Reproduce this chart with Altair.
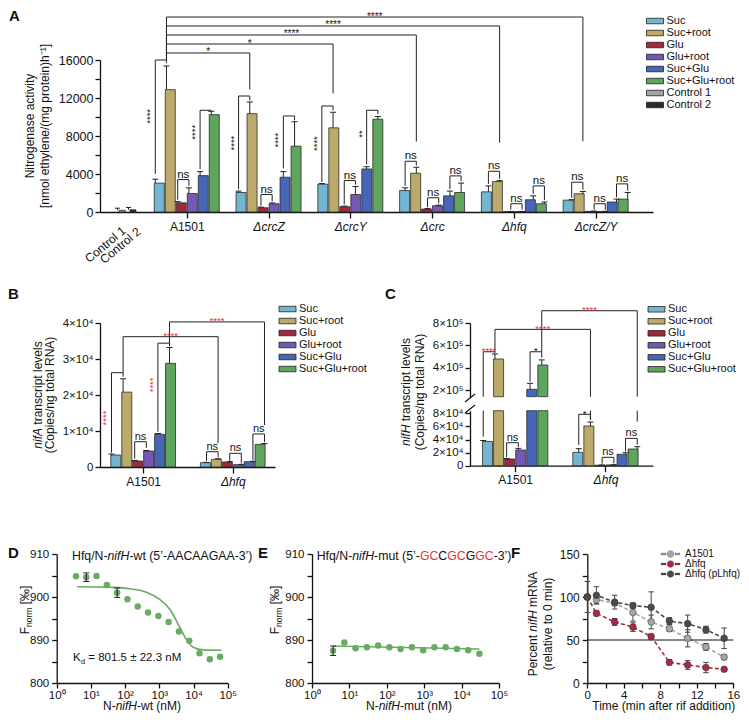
import altair as alt
import pandas as pd

FONT = "Liberation Sans"
INK = "#111111"
RED = "#e8333d"

# ======================= values =======================
conditions = ["Suc", "Suc+root", "Glu", "Glu+root", "Suc+Glu", "Suc+Glu+root"]
control_names = ["Control 1", "Control 2"]
cond_colors = ["#72b6d2", "#bcaa6b", "#a3283d", "#7558b1", "#4666b6", "#5ea55d"]
control_colors = ["#a3a3a3", "#2a2a2a"]

# ---- A: nitrogenase activity
a_strains = ["A1501", "ΔcrcZ", "ΔcrcY", "Δcrc", "Δhfq", "ΔcrcZ/Y"]
a_A1501 = [3040, 12880, 970, 1950, 3830, 10250]
a_crcZ = [2050, 10350, 450, 870, 3660, 6930]
a_crcY = [2930, 8860, 550, 1840, 4530, 9770]
a_crc = [2260, 4080, 310, 660, 1700, 2050]
a_hfq = [2120, 3200, 40, 40, 1290, 870]
a_crcZY = [1250, 1920, 70, 50, 1050, 1360]
a_A1501_err = [410, 2490, 120, 590, 420, 350]
a_crcZ_err = [150, 1230, 60, 80, 590, 2570]
a_crcY_err = [60, 1640, 70, 840, 240, 280]
a_crc_err = [280, 630, 50, 60, 500, 990]
a_hfq_err = [630, 100, 20, 20, 410, 180]
a_crcZY_err = [40, 240, 20, 20, 310, 690]
a_controls = [180, 230]
a_controls_err = [220, 250]
# (group, bar1, bar2, bracket y, left end y, right end y, label, y of vertical label)
a_pairs = [
    (1, 0, 1, 16000, 4010, 15700, "****", 10070),
    (1, 2, 3, 3410, 1300, 2750, "ns", None),
    (1, 4, 5, 10710, 4500, 10650, "****", 8390),
    (2, 0, 1, 12210, 2400, 11750, "****", 7250),
    (2, 2, 3, 1840, 650, 1100, "ns", None),
    (2, 4, 5, 10110, 4600, 9650, "****", 7560),
    (3, 0, 1, 11160, 3150, 10700, "****", 7200),
    (3, 2, 3, 3310, 800, 2900, "ns", None),
    (3, 4, 5, 10710, 5000, 10300, "**", 8200),
    (4, 0, 1, 5340, 2750, 4900, "ns", None),
    (4, 2, 3, 1500, 500, 900, "ns", None),
    (4, 4, 5, 3800, 2400, 3250, "ns", None),
    (5, 0, 1, 4290, 2950, 3500, "ns", None),
    (5, 2, 3, 870, 250, 250, "ns", None),
    (5, 4, 5, 2750, 1900, 1250, "ns", None),
    (6, 0, 1, 3140, 1500, 2350, "ns", None),
    (6, 2, 3, 870, 250, 250, "ns", None),
    (6, 4, 5, 2960, 1550, 2250, "ns", None),
]
# (from group, bar, y, to group, bar, y, line y, label)
a_cross = [
    (1, 1, 16000, 2, 1, 12900, 16737, "*"),
    (1, 1, 16000, 3, 1, 12490, 17684, "*"),
    (1, 1, 16000, 4, 1, 7410, 18632, "****"),
    (1, 1, 16000, 5, 1, 7300, 19579, "****"),
    (1, 1, 16000, 6, 1, 7440, 20526, "****"),
]

# ---- B: nifA transcripts (copies/ng total RNA)
bc_strains = ["A1501", "Δhfq"]
b_A1501 = [3330, 20800, 1670, 4440, 9080, 28800]
b_A1501_err = [270, 3700, 150, 150, 220, 4400]
b_hfq = [1200, 2130, 1390, 650, 1480, 6300]
b_hfq_err = [100, 170, 100, 80, 100, 200]
b_pairs = [
    (1, 0, 1, 26200, 3970, 25100, "****", 13600),
    (1, 2, 3, 7030, 2300, 5300, "ns", None),
    (1, 4, 5, 34400, 9800, 33500, "****", 22800),
    (2, 0, 1, 4250, 1700, 2700, "ns", None),
    (2, 2, 3, 3800, 1700, 1000, "ns", None),
    (2, 4, 5, 9170, 1900, 6900, "ns", None),
]
b_cross = [
    (1, 1, 26200, 2, 1, 6580, 36200, "****"),
    (1, 5, 34400, 2, 5, 11670, 40300, "****"),
]

# ---- C: nifH transcripts (copies/ng total RNA), broken axis
c_A1501 = [37000, 478000, 10200, 24000, 206000, 424000]
c_A1501_err = [1500, 45000, 800, 2500, 54000, 46000]
c_hfq = [20400, 60600, 800, 1200, 17400, 25500]
c_hfq_err = [5600, 6100, 300, 300, 2400, 3500]
c_pairs = [
    (1, 0, 1, 543000, 44300, 530000, "****", None),
    (1, 2, 3, 35100, 13000, 28500, "ns", None),
    (1, 4, 5, 543000, 275000, 490000, "*", None),
    (2, 0, 1, 78500, 31600, 69800, "*", None),
    (2, 2, 3, 12800, 3000, 3500, "ns", None),
    (2, 4, 5, 41800, 22000, 32000, "ns", None),
]
c_cross = [
    (1, 1, 543000, 2, 1, 69800, 744000, "****"),
    (1, 5, 543000, 2, 5, 67200, 911000, "****"),
]

# ---- D: MST, Hfq / N-nifH-wt
d_conc = [3.66, 7.32, 14.6, 29.3, 58.6, 117, 234, 469, 938, 1875, 3750, 7500, 15000, 30000, 60000]
d_fnorm = [904.8, 904.6, 904.9, 902.8, 901.0, 899.5, 897.8, 896.4, 895.6, 894.2, 892.0, 889.8, 886.9, 885.5, 886.1]
d_err_index = [1, 4]
d_err = [1.0, 1.1]
d_fit_conc = [4, 30, 110, 420, 1000, 2000, 3200, 4500, 6200, 9800, 19000, 66000]
d_fit_val = [902.4, 902.3, 902.0, 901.1, 899.5, 897.2, 894.4, 892.1, 890.1, 888.3, 887.7, 887.6]

# ---- E: MST, Hfq / N-nifH-mut
e_conc = d_conc[:14]
e_fnorm = [887.5, 889.4, 888.1, 888.3, 888.7, 888.3, 887.9, 888.3, 887.6, 888.3, 888.3, 887.9, 887.6, 886.8]
e_err_index = [0]
e_err = [1.1]
e_fit_conc = [3.66, 30000]
e_fit_val = [888.6, 887.9]

# ---- F: nifH mRNA stability
f_series = ["A1501", "Δhfq", "Δhfq (pLhfq)"]
f_colors = ["#a6a6a6", "#a52a44", "#4a4a4a"]
f_time = [0, 1, 3, 5, 7, 9, 11, 13, 15]
f_A1501 = [100, 97, 93, 82, 71, 63, 52, 42, 30]
f_A1501_err = [18, 5, 3, 10, 8, 3, 10, 4, 3]
f_hfq = [100, 81, 71, 65, 54, 24, 21, 18, 16]
f_hfq_err = [0, 3, 4, 5, 3, 3, 5, 6, 2]
f_pL = [100, 102, 94, 90, 88, 72, 69, 62, 52]
f_pL_err = [0, 10, 8, 3, 18, 4, 10, 4, 12]

# ============================== layout helpers ===============================
W, H = 733, 706
layers = []


def lin(domain, rng):
    return alt.Scale(domain=domain, range=rng, nice=False, zero=False)


AXC = dict(grid=False, title=None, labelFlush=False, labelOverlap=False,
           domainWidth=1.3, tickWidth=1.3, domainColor=INK, tickColor=INK,
           labelColor=INK, labelFont=FONT)
BAR_SYM = "M-1.7,-0.55H1.7V0.55H-1.7Z"
F_SYM = ("M-2.1,-0.2H-1V0.2H-2.1Z M1,-0.2H2.1V0.2H1Z "
         "M0.75,0A0.75,0.75,0,1,1,-0.75,0A0.75,0.75,0,1,1,0.75,0Z")


def bar_legend(x, y):
    return alt.Legend(orient="none", legendX=x, legendY=y, direction="vertical", title=None,
                      symbolType=BAR_SYM, symbolSize=100, symbolStrokeColor="#222",
                      symbolStrokeWidth=0.8, symbolOpacity=1, labelFontSize=11,
                      labelOffset=6, rowPadding=0, padding=0, labelFont=FONT, labelColor=INK)


def seg(x, x2, y, y2):
    return {"x": x, "x2": x2, "y": y, "y2": y2}


def grouped(means, errs, step, cap):
    bars, segs = [], []
    for g, (m, e) in enumerate(zip(means, errs), start=1):
        for i, cond in enumerate(conditions):
            p = g + (i - 2.5) * step
            bars.append({"cond": cond, "pos": p, "val": m[i], "base": 0})
            t = m[i] + e[i]
            segs.append(seg(p, p, m[i], t))
            segs.append(seg(p - cap, p + cap, t, t))
    return bars, segs


def pair_ann(pairs, step, pxu, red):
    segs, ns, stars, vert = [], [], [], []
    for g, i1, i2, yt, yl, yr, lab, ly in pairs:
        x1 = g + (i1 - 2.5) * step
        x2 = g + (i2 - 2.5) * step
        segs += [seg(x1, x2, yt, yt), seg(x1, x1, yl, yt), seg(x2, x2, yr, yt)]
        col = RED if (red and lab == "****") else INK
        row = {"x": (x1 + x2) / 2, "y": yt, "text": lab, "color": col}
        if ly is not None:
            row.update(x=x1 - 5 / pxu, y=ly)
            vert.append(row)
        elif lab == "ns":
            ns.append(row)
        else:
            stars.append(row)
    return segs, ns, stars, vert


def cross_ann(cross, step, red):
    segs, labs = [], []
    for sg, si, sy, dg, di, dy_, yl, lab in cross:
        xs_ = sg + (si - 2.5) * step
        xd = dg + (di - 2.5) * step
        segs += [seg(xs_, xs_, sy, yl), seg(xs_, xd, yl, yl), seg(xd, xd, dy_, yl)]
        labs.append({"x": (xs_ + xd) / 2, "y": yl, "text": lab, "color": RED if red else INK})
    return segs, labs


def seg_layer(rows, xs, ys, color=INK, width=1.0):
    return alt.Chart(pd.DataFrame(rows)).mark_rule(color=color, strokeWidth=width).encode(
        x=alt.X("x:Q", scale=xs, axis=None), x2="x2",
        y=alt.Y("y:Q", scale=ys, axis=None), y2="y2")


def text_layers(rows, xs, ys, size, dy=0, angle=0, baseline="alphabetic"):
    out = []
    if not rows:
        return out
    df = pd.DataFrame(rows)
    for col in sorted(df["color"].unique()):
        sub = df[df["color"] == col]
        out.append(alt.Chart(sub).mark_text(fontSize=size, dy=dy, angle=angle, baseline=baseline,
                                            align="center", color=col, font=FONT).encode(
            x=alt.X("x:Q", scale=xs, axis=None), y=alt.Y("y:Q", scale=ys, axis=None), text="text:N"))
    return out


def bar_layer(rows, xs, ys, cscale, legend, xaxis=None, yaxis=None, size=10):
    return alt.Chart(pd.DataFrame(rows)).mark_bar(size=size, stroke="#2b2b2b", strokeWidth=0.8).encode(
        x=alt.X("pos:Q", scale=xs, axis=xaxis),
        y=alt.Y("val:Q", scale=ys, axis=yaxis), y2="base",
        color=alt.Color("cond:N", scale=cscale, legend=legend))


# ---- text with mixed styles
AW = {c: 556 for c in "0123456789"}
AW.update(dict(zip("ABCDEFGHIJKLMNOPQRSTUVWXYZ",
                   [667, 667, 722, 722, 667, 611, 778, 722, 278, 500, 667, 556, 833, 722, 778, 667,
                    778, 722, 667, 611, 722, 667, 944, 667, 667, 611])))
AW.update(dict(zip("abcdefghijklmnopqrstuvwxyz",
                   [556, 556, 500, 556, 556, 278, 556, 556, 222, 222, 500, 222, 833, 556, 556, 556,
                    556, 333, 500, 278, 556, 500, 722, 500, 500, 500])))
AW.update({" ": 278, "(": 333, ")": 333, "[": 278, "]": 278, "/": 278, "-": 333, ".": 278,
           ",": 278, "=": 584, "±": 584, "×": 584, "’": 222, "'": 191, "‰": 1000, "*": 389,
           "+": 584, "Δ": 668, "⁻": 333, "¹": 333})


def text_width(s, size):
    return sum(AW.get(c, 556) for c in s) * size / 1000.0


rich_rows = []


def rich(segs, x, y, size=12, angle=0, anchor="start"):
    norm = []
    for s in segs:
        t = s[0]
        st = s[1] if len(s) > 1 else "normal"
        col = s[2] if len(s) > 2 else INK
        fs = s[3] if len(s) > 3 else size
        sh = s[4] if len(s) > 4 else 0
        norm.append((t, st, col, fs, sh))
    total = sum(text_width(t, fs) for t, _, _, fs, _ in norm)
    pos = -total / 2 if anchor == "middle" else 0
    for t, st, col, fs, sh in norm:
        lead = len(t) - len(t.lstrip(" "))
        body = t.strip(" ")
        p = pos + text_width(t[:lead], fs)
        if body:
            if angle == 0:
                rich_rows.append({"px": x + p, "py": y + sh, "text": body, "style": st,
                                  "color": col, "fs": fs, "ang": 0})
            else:
                rich_rows.append({"px": x + sh, "py": y - p, "text": body, "style": st,
                                  "color": col, "fs": fs, "ang": 270})
        pos += text_width(t, fs)


# ================================== PANEL A ==================================
A_XD, A_XR = [0, 6.64], [92, 645]
A_YD, A_YR = [0, 16000], [204, 52]
A_PXU = (A_XR[1] - A_XR[0]) / (A_XD[1] - A_XD[0])
A_STEP = 11.2 / A_PXU
A_CTRL = [0.21, 0.342]
sAx, sAy = lin(A_XD, A_XR), lin(A_YD, A_YR)
colA = alt.Scale(domain=conditions + control_names, range=cond_colors + control_colors)
a_names_expr = "[" + ",".join("'%s'" % s for s in [""] + a_strains) + "][datum.value]"
axAx = alt.Axis(orient="bottom", offset=A_YR[0] - H, values=[1, 2, 3, 4, 5, 6], labelExpr=a_names_expr,
                labelFontStyle={"condition": {"test": "datum.value > 1", "value": "italic"}, "value": "normal"},
                tickSize=6, labelPadding=3, labelFontSize=12, **AXC)
axAy = alt.Axis(orient="left", offset=-A_XR[0], values=list(range(0, 16001, 2000)),
                labelExpr="datum.value % 4000 == 0 ? format(datum.value, 'd') : ''",
                tickSize=5, labelPadding=2, labelFontSize=12.5, **AXC)

a_means = [a_A1501, a_crcZ, a_crcY, a_crc, a_hfq, a_crcZY]
a_errs = [a_A1501_err, a_crcZ_err, a_crcY_err, a_crc_err, a_hfq_err, a_crcZY_err]
barsA, errA = grouped(a_means, a_errs, A_STEP, 3 / A_PXU)
ctrl_bars = [{"cond": control_names[k], "pos": A_CTRL[k], "val": a_controls[k], "base": 0} for k in range(2)]
for k in range(2):
    t = a_controls[k] + a_controls_err[k]
    errA += [seg(A_CTRL[k], A_CTRL[k], a_controls[k], t),
             seg(A_CTRL[k] - 2.5 / A_PXU, A_CTRL[k] + 2.5 / A_PXU, t, t)]
pA = pair_ann(a_pairs, A_STEP, A_PXU, red=False)
cA = cross_ann(a_cross, A_STEP, red=False)
layers += [
    bar_layer(barsA, sAx, sAy, colA, bar_legend(641.5, 7.5), axAx, axAy),
    bar_layer(ctrl_bars, sAx, sAy, colA, None, size=6),
    seg_layer(errA, sAx, sAy, "#222"),
    seg_layer(pA[0] + cA[0], sAx, sAy, "#222"),
    *text_layers(pA[1], sAx, sAy, 11.5, dy=-2),
    *text_layers(pA[2] + cA[1], sAx, sAy, 10, dy=2.5),
    *text_layers(pA[3], sAx, sAy, 9.5, angle=270, baseline="middle"),
]

# ================================== PANEL B ==================================
B_XD, B_XR = [0.5737, 2.4158], [92, 267]
B_YD, B_YR = [0, 40000], [459, 315]
B_PXU = (B_XR[1] - B_XR[0]) / (B_XD[1] - B_XD[0])
B_STEP = 11.6 / B_PXU
sBx, sBy = lin(B_XD, B_XR), lin(B_YD, B_YR)
colBC = alt.Scale(domain=conditions, range=cond_colors)
bc_names_expr = "datum.value == 1 ? '%s' : '%s'" % (bc_strains[0], bc_strains[1])
bc_style = {"condition": {"test": "datum.value == 2", "value": "italic"}, "value": "normal"}
axBx = alt.Axis(orient="bottom", offset=B_YR[0] - H, values=[1, 2], labelExpr=bc_names_expr,
                labelFontStyle=bc_style, tickSize=6, labelPadding=3, labelFontSize=12, **AXC)
axBy = alt.Axis(orient="left", offset=-B_XR[0], values=[0, 10000, 20000, 30000, 40000],
                labelExpr="datum.value == 0 ? '0' : format(datum.value / 10000, 'd') + '×10⁴'",
                tickSize=5, labelPadding=2, labelFontSize=11.5, **AXC)
barsB, errB = grouped([b_A1501, b_hfq], [b_A1501_err, b_hfq_err], B_STEP, 3 / B_PXU)
pB = pair_ann(b_pairs, B_STEP, B_PXU, red=True)
cB = cross_ann(b_cross, B_STEP, red=True)
layers += [
    bar_layer(barsB, sBx, sBy, colBC, bar_legend(274, 295.5), axBx, axBy),
    seg_layer(errB, sBx, sBy, "#222"),
    seg_layer(pB[0] + cB[0], sBx, sBy, "#222"),
    *text_layers(pB[1], sBx, sBy, 11, dy=-2),
    *text_layers(pB[2] + cB[1], sBx, sBy, 9.5, dy=2.5),
    *text_layers(pB[3], sBx, sBy, 9.5, angle=270, baseline="middle"),
]

# ================================== PANEL C ==================================
C_XD, C_XR = [0.5550, 2.4712], [462, 645]
C_PXU = (C_XR[1] - C_XR[0]) / (C_XD[1] - C_XD[0])
C_STEP = 11.7 / C_PXU
C_LO_D, C_LO_R = [0, 84000], [457.7, 402.7]
C_UP_D, C_UP_R = [140000, 800000], [388.7, 315.1]
sCx = lin(C_XD, C_XR)
sClo, sCup = lin(C_LO_D, C_LO_R), lin(C_UP_D, C_UP_R)
axCx = alt.Axis(orient="bottom", offset=C_LO_R[0] - H, values=[1, 2], labelExpr=bc_names_expr,
                labelFontStyle=bc_style, tickSize=6, labelPadding=3, labelFontSize=12, **AXC)
axClo = alt.Axis(orient="left", offset=-C_XR[0], values=[0, 20000, 40000, 60000, 80000],
                 labelExpr="datum.value == 0 ? '0' : format(datum.value / 10000, 'd') + '×10⁴'",
                 tickSize=5, labelPadding=2, labelFontSize=11.5, **AXC)
axCup = alt.Axis(orient="left", offset=-C_XR[0], values=[200000, 400000, 600000, 800000],
                 labelExpr="format(datum.value / 100000, 'd') + '×10⁵'",
                 tickSize=5, labelPadding=2, labelFontSize=11.5, **AXC)
barsC, errC = grouped([c_A1501, c_hfq], [c_A1501_err, c_hfq_err], C_STEP, 3 / C_PXU)
pC = pair_ann(c_pairs, C_STEP, C_PXU, red=True)
cC = cross_ann(c_cross, C_STEP, red=True)

bars_lo = [dict(b, val=min(b["val"], C_LO_D[1])) for b in barsC]
bars_up = [dict(b, base=C_UP_D[0]) for b in barsC if b["val"] > C_UP_D[0]]


def split_segs(rows):
    lo, up = [], []
    for s in rows:
        a, b = sorted([s["y"], s["y2"]])
        if a < C_LO_D[1]:
            lo.append(dict(s, y=a, y2=min(b, C_LO_D[1])))
        if b > C_UP_D[0]:
            up.append(dict(s, y=max(a, C_UP_D[0]), y2=b))
    return lo, up


def split_labels(rows):
    return [r for r in rows if r["y"] < C_LO_D[1]], [r for r in rows if r["y"] >= C_LO_D[1]]


err_lo, err_up = split_segs(errC)
br_lo, br_up = split_segs(pC[0] + cC[0])
ns_lo, ns_up = split_labels(pC[1])
st_lo, st_up = split_labels(pC[2] + cC[1])
layers += [
    bar_layer(bars_lo, sCx, sClo, colBC, bar_legend(643, 295.8), axCx, axClo),
    seg_layer(err_lo, sCx, sClo, "#222"),
    seg_layer(br_lo, sCx, sClo, "#222"),
    *text_layers(ns_lo, sCx, sClo, 11, dy=-2),
    *text_layers(st_lo, sCx, sClo, 9.5, dy=2.5),
    bar_layer(bars_up, sCx, sCup, colBC, None, None, axCup),
    seg_layer(err_up, sCx, sCup, "#222"),
    seg_layer(br_up, sCx, sCup, "#222"),
    *text_layers(st_up, sCx, sCup, 9.5, dy=2.5),
]
# axis break marks
layers.append(alt.Chart(pd.DataFrame([seg(457, 467, 394, 386), seg(457, 467, 405, 397)])).mark_rule(
    color=INK, strokeWidth=1.2).encode(
    x=alt.X("x:Q", scale=None, axis=None), x2="x2", y=alt.Y("y:Q", scale=None, axis=None), y2="y2"))

# ================================ PANELS D, E ================================
GREEN = "#68ab61"
MST_YD, MST_YR = [880, 910], [675, 546]
log_expr = "'10' + ['⁰','¹','²','³','⁴','⁵'][round(log(datum.value) / LN10)]"


def mst_panel(conc, vals, err_idx, errs, fit_c, fit_v, xr, cap_factor):
    sx = alt.Scale(type="log", domain=[1, 100000], range=xr, nice=False)
    sy = lin(MST_YD, MST_YR)
    ax = alt.Axis(orient="bottom", offset=MST_YR[0] - H, values=[1, 10, 100, 1000, 10000, 100000],
                  labelExpr=log_expr, tickSize=5, labelPadding=1, labelFontSize=11.5, **AXC)
    ay = alt.Axis(orient="left", offset=-xr[0], values=[880, 885, 890, 895, 900, 905, 910],
                  labelExpr="datum.value == 880 ? '800' : (datum.value % 10 == 0 ? datum.label : '')",
                  tickSize=5, labelPadding=3, labelFontSize=11.5, **AXC)
    pts = pd.DataFrame({"x": conc, "y": vals})
    fit = pd.DataFrame({"x": fit_c, "y": fit_v})
    es = []
    for i, e in zip(err_idx, errs):
        c, v = conc[i], vals[i]
        es += [seg(c, c, v - e, v + e), seg(c / cap_factor, c * cap_factor, v + e, v + e),
               seg(c / cap_factor, c * cap_factor, v - e, v - e)]
    return [
        alt.Chart(fit).mark_line(color=GREEN, strokeWidth=1.6, interpolate="monotone").encode(
            x=alt.X("x:Q", scale=sx, axis=ax), y=alt.Y("y:Q", scale=sy, axis=ay)),
        alt.Chart(pts).mark_circle(size=42, color=GREEN, opacity=1).encode(
            x=alt.X("x:Q", scale=sx, axis=None), y=alt.Y("y:Q", scale=sy, axis=None)),
        seg_layer(es, sx, sy, "#222"),
    ]


layers += mst_panel(d_conc, d_fnorm, d_err_index, d_err, d_fit_conc, d_fit_val, [48.7, 219.7], 1.224)
layers += mst_panel(e_conc, e_fnorm, e_err_index, e_err, e_fit_conc, e_fit_val, [304, 491], 1.2)

# ================================== PANEL F ==================================
F_XD, F_XR = [0, 16], [579.3, 725.3]
F_YD, F_YR = [0, 150], [675, 546]
sFx, sFy = lin(F_XD, F_XR), lin(F_YD, F_YR)
colF = alt.Scale(domain=f_series, range=f_colors)
axFx = alt.Axis(orient="bottom", offset=F_YR[0] - H, values=list(range(0, 17, 2)),
                labelExpr="datum.value % 4 == 0 ? datum.label : ''",
                tickSize=5, labelPadding=1, labelFontSize=11.5, **AXC)
axFy = alt.Axis(orient="left", offset=-F_XR[0], values=list(range(0, 151, 25)),
                labelExpr="datum.value % 50 == 0 ? datum.label : ''",
                tickSize=5, labelPadding=3, labelFontSize=12, **AXC)
legF = alt.Legend(orient="none", legendX=657.5, legendY=541, direction="vertical", title=None,
                  symbolType=F_SYM, symbolSize=81, symbolStrokeColor="#333", symbolStrokeWidth=0.3,
                  symbolOpacity=1, labelFontSize=10, labelOffset=9.5, rowPadding=0, padding=0,
                  labelFont=FONT, labelColor=INK)
f_rows, f_err = [], []
for name, vals, errs in zip(f_series, [f_A1501, f_hfq, f_pL], [f_A1501_err, f_hfq_err, f_pL_err]):
    for t, v, e in zip(f_time, vals, errs):
        f_rows.append({"series": name, "t": t, "v": v})
        if e > 0:
            f_err += [seg(t, t, v - e, v + e), seg(t - 0.3, t + 0.3, v + e, v + e),
                      seg(t - 0.3, t + 0.3, v - e, v - e)]
f_df = pd.DataFrame(f_rows)
layers += [
    alt.Chart(f_df).mark_line(strokeDash=[4, 2.5], strokeWidth=1.6).encode(
        x=alt.X("t:Q", scale=sFx, axis=axFx), y=alt.Y("v:Q", scale=sFy, axis=axFy),
        color=alt.Color("series:N", scale=colF, legend=None)),
    seg_layer([seg(0, 16, 50, 50)], sFx, sFy, INK, 1.0),
    seg_layer(f_err, sFx, sFy, "#444"),
    alt.Chart(f_df).mark_circle(size=45, opacity=1, stroke="#333", strokeWidth=0.5).encode(
        x=alt.X("t:Q", scale=sFx, axis=None), y=alt.Y("v:Q", scale=sFy, axis=None),
        color=alt.Color("series:N", scale=colF, legend=legF)),
]

# ============================== titles and labels ============================
for letter, lx, ly in [("A", 1, 13), ("B", 0, 290.5), ("C", 377, 290.5),
                       ("D", 0, 550), ("E", 250, 550), ("F", 503, 550)]:
    rich([(letter, "bold")], lx, ly, 15)
rich([("Nitrogenase activity",)], 25.6, 118, 12, 270, "middle")
rich([("[nmol ethylene/(mg protein)h⁻¹]",)], 40.6, 118, 12, 270, "middle")
rich([("nifA", "italic"), (" transcript levels",)], 33.6, 387, 12, 270, "middle")
rich([("(Copies/ng total RNA)",)], 45.8, 387, 12, 270, "middle")
rich([("nifH", "italic"), (" transcript levels",)], 402.3, 384, 12, 270, "middle")
rich([("(Copies/ng total RNA)",)], 415.8, 384, 12, 270, "middle")
rich([("F",), ("norm", "normal", INK, 8.5, 3), (" [‰]",)], 20.6, 602, 12, 270, "middle")
rich([("F",), ("norm", "normal", INK, 8.5, 3), (" [‰]",)], 270.6, 602, 12, 270, "middle")
rich([("Percent ",), ("nifH", "italic"), (" mRNA",)], 529, 616, 12, 270, "middle")
rich([("(relative to 0 min)",)], 544, 616, 12, 270, "middle")
rich([("N-",), ("nifH", "italic"), ("-wt (nM)",)], 134, 702, 12, 0, "middle")
rich([("N-",), ("nifH", "italic"), ("-mut (nM)",)], 401, 702, 12, 0, "middle")
rich([("Time (min after rif addition)",)], 656, 702, 12, 0, "middle")
rich([("Hfq/N-",), ("nifH", "italic"), ("-wt (5’-AACAAGAA-3’)",)], 64, 552, 12.3)
rich([("Hfq/N-",), ("nifH", "italic"), ("-mut (5’-",), ("GC", "normal", RED), ("C",),
      ("GC", "normal", RED), ("G",), ("GC", "normal", RED), ("-3’)",)], 308.7, 552, 12.3)
rich([("K",), ("d", "normal", INK, 8, 2.5), (" = 801.5 ± 22.3 nM",)], 65, 653, 11.5)

rich_df = pd.DataFrame(rich_rows)
for key in rich_df[["style", "color", "fs", "ang"]].drop_duplicates().itertuples(index=False):
    st, col, fs, ang = key
    sub = rich_df[(rich_df["style"] == st) & (rich_df["color"] == col) &
                  (rich_df["fs"] == fs) & (rich_df["ang"] == ang)]
    kw = {}
    if st == "italic":
        kw["fontStyle"] = "italic"
    if st == "bold":
        kw["fontWeight"] = "bold"
    layers.append(alt.Chart(sub).mark_text(align="left", baseline="alphabetic", font=FONT,
                                           fontSize=float(fs), angle=float(ang), color=col, **kw).encode(
        x=alt.X("px:Q", scale=None, axis=None), y=alt.Y("py:Q", scale=None, axis=None), text="text:N"))

ctrl_lab = pd.DataFrame({"px": [116, 131], "py": [221, 222], "text": control_names})
layers.append(alt.Chart(ctrl_lab).mark_text(align="right", baseline="middle", angle=320, fontSize=12,
                                            font=FONT, color=INK).encode(
    x=alt.X("px:Q", scale=None, axis=None), y=alt.Y("py:Q", scale=None, axis=None), text="text:N"))

chart = alt.layer(*layers).resolve_scale(
    x="independent", y="independent", color="independent").properties(
    width=W, height=H, autosize=alt.AutoSizeParams(type="none"), padding=0)
chart = chart.configure_view(stroke=None).configure_axis(labelFont=FONT, titleFont=FONT).configure_legend(
    labelFont=FONT).configure_text(font=FONT)
chart.save("out.html", embed_options={"renderer": "svg", "actions": False})
